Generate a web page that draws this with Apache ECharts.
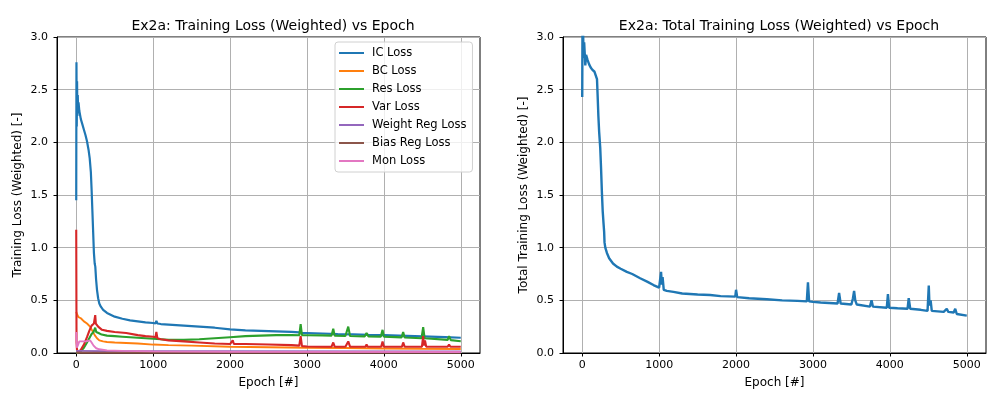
<!DOCTYPE html>
<html>
<head>
<meta charset="utf-8">
<script src="https://cdn.jsdelivr.net/npm/echarts@6/dist/echarts.min.js"></script>
<style>
html,body{margin:0;padding:0;background:#fff;}
#chart{width:1002px;height:399px;}
</style>
</head>
<body>
<div id="chart"></div>
<script>
// ---- tick labels ----
const epochTicks = [0, 1000, 2000, 3000, 4000, 5000];
const lossTicks = [0, 0.5, 1.0, 1.5, 2.0, 2.5, 3.0];

// ---- IC Loss ----
const icEpoch = [0,3,7,11,15,20,25,30,40,60,80,100,120,140,160,175,190,200,210,220,230,240,248,258,270,285,300,320,350,400,500,600,700,800,900,1000,1030,1042,1055,1100,1200,1400,1600,1800,2000,2200,2400,2600,2800,2900,2918,2935,3000,3200,3400,3600,3800,4000,4200,4400,4600,4800,5000];
const icLoss  = [1.45,2.76,2.15,2.58,2.25,2.45,2.30,2.38,2.30,2.22,2.17,2.12,2.07,2.01,1.93,1.85,1.72,1.55,1.35,1.15,0.95,0.85,0.82,0.70,0.60,0.52,0.47,0.44,0.41,0.38,0.345,0.325,0.31,0.30,0.29,0.285,0.28,0.305,0.28,0.275,0.27,0.26,0.25,0.24,0.225,0.215,0.21,0.205,0.20,0.195,0.205,0.19,0.19,0.185,0.18,0.177,0.172,0.17,0.165,0.16,0.155,0.15,0.145];

// ---- BC Loss ----
const bcEpoch = [0,15,30,60,100,140,180,210,240,270,300,350,400,500,650,800,1000,1200,1500,2000,2500,3000,3500,4000,4500,5000];
const bcLoss  = [0.39,0.36,0.34,0.33,0.30,0.28,0.25,0.21,0.17,0.14,0.12,0.11,0.105,0.10,0.095,0.09,0.08,0.075,0.07,0.06,0.055,0.05,0.047,0.043,0.04,0.038];

// ---- Res Loss ----
const resEpoch = [0,50,100,140,170,200,225,247,260,290,330,400,500,600,700,800,900,1000,1100,1200,1400,1600,1800,2000,2200,2400,2600,2800,2900,2918,2935,3000,3200,3320,3342,3360,3500,3537,3560,3750,3775,3800,3960,3983,4000,4230,4251,4270,4490,4511,4530,4830,4848,4870,5000];
const resLoss  = [0.0,0.01,0.05,0.10,0.14,0.18,0.20,0.24,0.20,0.19,0.175,0.165,0.16,0.155,0.15,0.145,0.14,0.135,0.13,0.125,0.125,0.13,0.14,0.15,0.16,0.165,0.17,0.17,0.168,0.275,0.17,0.168,0.167,0.165,0.23,0.165,0.162,0.25,0.162,0.158,0.19,0.157,0.155,0.22,0.155,0.148,0.20,0.147,0.14,0.245,0.14,0.125,0.16,0.122,0.112];

// ---- Var Loss ----
const varEpoch = [0,4,10,30,60,100,140,170,200,230,247,255,270,285,300,335,400,500,650,800,900,1000,1030,1042,1055,1100,1200,1400,1600,1800,2000,2020,2035,2050,2200,2500,2800,2900,2918,2935,3000,3200,3320,3342,3360,3500,3537,3560,3760,3775,3790,3965,3983,4000,4235,4251,4270,4495,4511,4522,4535,4550,4830,4848,4865,5000];
const varLoss  = [1.17,0.10,0.03,0.01,0.03,0.08,0.15,0.21,0.26,0.28,0.36,0.28,0.29,0.25,0.24,0.22,0.21,0.20,0.19,0.17,0.16,0.155,0.15,0.20,0.14,0.13,0.12,0.11,0.10,0.09,0.085,0.085,0.12,0.085,0.085,0.08,0.075,0.07,0.16,0.065,0.062,0.06,0.06,0.10,0.06,0.06,0.11,0.06,0.06,0.08,0.06,0.06,0.11,0.06,0.06,0.10,0.06,0.06,0.16,0.07,0.12,0.06,0.06,0.08,0.06,0.06];

// ---- Weight Reg Loss ----
const wregEpoch = [0,500,2000,5000];
const wregLoss  = [0.02,0.017,0.016,0.015];

// ---- Bias Reg Loss ----
const bregEpoch = [0,5000];
const bregLoss  = [0.002,0.002];

// ---- Mon Loss ----
const monEpoch = [0,8,20,40,60,90,130,180,200,225,260,300,400,600,1000,2000,5000];
const monLoss  = [0.20,0.05,0.07,0.11,0.125,0.11,0.11,0.12,0.10,0.07,0.045,0.035,0.025,0.02,0.015,0.012,0.01];

// ---- Total Loss (right) ----
const totEpoch = [0,3,8,12,18,25,32,40,50,70,90,110,130,160,182,192,200,210,220,234,245,256,266,277,285,290,300,321,350,400,450,500,580,650,753,850,926,1000,1013,1025,1035,1045,1060,1100,1186,1300,1500,1663,1800,1990,2000,2015,2170,2400,2600,2800,2920,2935,2950,3000,3100,3320,3340,3360,3500,3520,3535,3550,3570,3740,3762,3780,3960,3975,3990,4100,4230,4245,4265,4400,4490,4506,4515,4530,4545,4700,4740,4760,4830,4850,4870,5000];
const totLoss  = [2.43,3.05,2.85,3.02,2.80,2.95,2.85,2.73,2.83,2.78,2.74,2.71,2.69,2.67,2.66,2.60,2.45,2.25,2.10,1.95,1.75,1.52,1.35,1.23,1.15,1.05,1.0,0.95,0.90,0.85,0.82,0.80,0.77,0.75,0.71,0.675,0.645,0.62,0.61,0.77,0.65,0.72,0.60,0.59,0.58,0.565,0.555,0.55,0.54,0.535,0.60,0.53,0.52,0.51,0.50,0.495,0.49,0.67,0.49,0.485,0.48,0.47,0.57,0.47,0.46,0.52,0.59,0.50,0.46,0.44,0.50,0.44,0.43,0.56,0.43,0.425,0.42,0.52,0.42,0.41,0.40,0.64,0.45,0.50,0.40,0.39,0.42,0.39,0.385,0.42,0.37,0.355];

const zip = (xs, ys) => xs.map((x, i) => [x, ys[i]]);

const FONT = 'DejaVu Sans';
const GRID_COLOR = '#b0b0b0';
const TICK_FS = 11;
const NAME_FS = 12;

function xAxisCfg(gridIndex) {
  return {
    type: 'value', gridIndex, min: -250, max: 5250,
    name: 'Epoch [#]', nameLocation: 'middle', nameGap: 24,
    nameTextStyle: {fontFamily: FONT, fontSize: NAME_FS, color: '#000'},
    axisLine: {show: true, onZero: false, lineStyle: {color: '#000', width: 1}},
    axisTick: {show: true, length: 3.5, lineStyle: {color: '#000', width: 1}, customValues: epochTicks},
    axisLabel: {fontFamily: FONT, fontSize: TICK_FS, color: '#000', margin: 7, customValues: epochTicks,
      formatter: v => String(v)},
    splitLine: {show: true, lineStyle: {color: GRID_COLOR, width: 1}}
  };
}
function yAxisCfg(gridIndex, name, gap) {
  return {
    type: 'value', gridIndex, min: 0, max: 3, interval: 0.5,
    name, nameLocation: 'middle', nameGap: gap,
    nameTextStyle: {fontFamily: FONT, fontSize: NAME_FS, color: '#000'},
    axisLine: {show: true, onZero: false, lineStyle: {color: '#000', width: 1}},
    axisTick: {show: true, length: 3.5, lineStyle: {color: '#000', width: 1}, customValues: lossTicks},
    axisLabel: {fontFamily: FONT, fontSize: TICK_FS, color: '#000', margin: 9, customValues: lossTicks,
      formatter: v => Number(v).toFixed(1)},
    splitLine: {show: true, lineStyle: {color: GRID_COLOR, width: 1}}
  };
}

const names = ['IC Loss','BC Loss','Res Loss','Var Loss','Weight Reg Loss','Bias Reg Loss','Mon Loss'];
const colors = ['#1f77b4','#ff7f0e','#2ca02c','#d62728','#9467bd','#8c564b','#e377c2'];
const widths = [2.2, 1.9, 2.1, 2.1, 1.9, 1.9, 1.9];
const leftData = [zip(icEpoch, icLoss), zip(bcEpoch, bcLoss), zip(resEpoch, resLoss), zip(varEpoch, varLoss), zip(wregEpoch, wregLoss), zip(bregEpoch, bregLoss), zip(monEpoch, monLoss)];

const series = names.map((n, i) => ({
  name: n, type: 'line', xAxisIndex: 0, yAxisIndex: 0,
  data: leftData[i], showSymbol: false, symbol: 'none', animation: false,
  lineStyle: {color: colors[i], width: widths[i]}, itemStyle: {color: colors[i]}, z: 2 + i
}));
series.push({
  name: 'Total', type: 'line', xAxisIndex: 1, yAxisIndex: 1,
  data: zip(totEpoch, totLoss), showSymbol: false, symbol: 'none', animation: false,
  lineStyle: {color: '#1f77b4', width: 2.4}, itemStyle: {color: '#1f77b4'}
});

const chart = echarts.init(document.getElementById('chart'), null, {renderer: 'canvas'});
chart.setOption({
  backgroundColor: '#fff',
  animation: false,
  title: [
    {text: 'Ex2a: Training Loss (Weighted) vs Epoch', left: 268, top: 14, textAlign: 'center',
     textStyle: {fontFamily: FONT, fontSize: 14, fontWeight: 'normal', color: '#000'}},
    {text: 'Ex2a: Total Training Loss (Weighted) vs Epoch', left: 774, top: 14, textAlign: 'center',
     textStyle: {fontFamily: FONT, fontSize: 14, fontWeight: 'normal', color: '#000'}}
  ],
  grid: [
    {left: 57, right: 522, top: 37, bottom: 46, show: true, borderColor: '#000', borderWidth: 1, backgroundColor: 'transparent'},
    {left: 563, right: 16, top: 37, bottom: 46, show: true, borderColor: '#000', borderWidth: 1, backgroundColor: 'transparent'}
  ],
  xAxis: [xAxisCfg(0), xAxisCfg(1)],
  yAxis: [yAxisCfg(0, 'Training Loss (Weighted) [-]', 33), yAxisCfg(1, 'Total Training Loss (Weighted) [-]', 33)],
  legend: {
    data: names, orient: 'vertical', left: 335, top: 42,
    icon: 'rect', itemWidth: 25, itemHeight: 2, itemGap: 4,
    padding: [4, 6, 4, 4],
    borderColor: '#d0d0d0', borderWidth: 1, borderRadius: 3, backgroundColor: 'rgba(255,255,255,0.8)',
    textStyle: {fontFamily: FONT, fontSize: 11.5, color: '#000', lineHeight: 14, padding: [0,0,0,3]}
  },
  series
});
</script>
</body>
</html>
